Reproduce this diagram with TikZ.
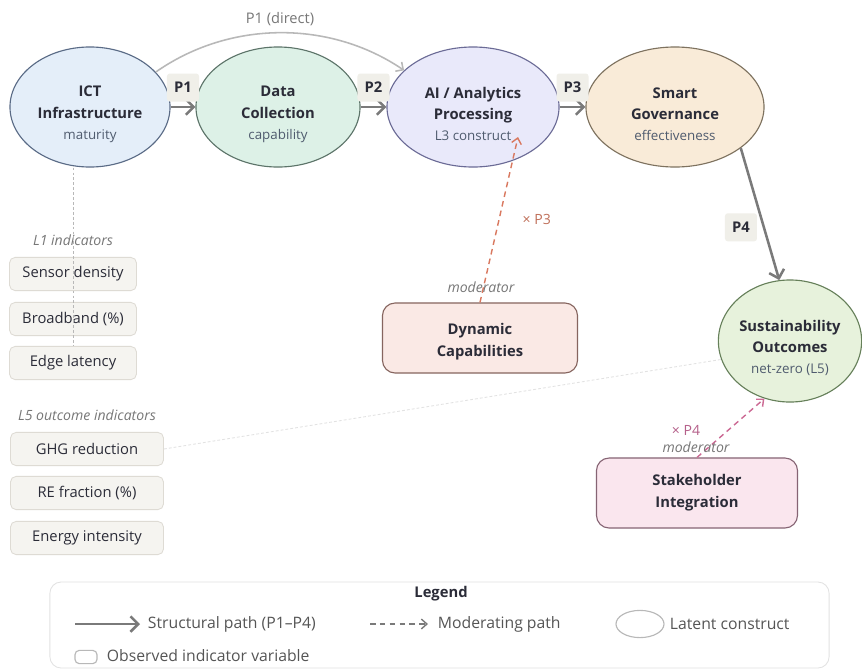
\documentclass[tikz,border=0pt]{standalone}
\usepackage{fontspec}
\setmainfont{Open Sans}
\usetikzlibrary{shapes.geometric, positioning, arrows.meta}

\definecolor{ictfill}{HTML}{E4EEF9}
\definecolor{ictline}{HTML}{5A6B86}
\definecolor{datafill}{HTML}{DDF1E7}
\definecolor{dataline}{HTML}{5C7469}
\definecolor{aifill}{HTML}{E9E9FA}
\definecolor{ailine}{HTML}{6B6B96}
\definecolor{govfill}{HTML}{F9EBD8}
\definecolor{govline}{HTML}{7E725F}
\definecolor{susfill}{HTML}{E7F2DC}
\definecolor{susline}{HTML}{66805A}
\definecolor{dynfill}{HTML}{FAE9E5}
\definecolor{dynline}{HTML}{86655F}
\definecolor{stakefill}{HTML}{FAE6EE}
\definecolor{stakeline}{HTML}{866474}
\definecolor{obsfill}{HTML}{F5F4F0}
\definecolor{obsline}{HTML}{DEDBD4}
\definecolor{tagfill}{HTML}{F0EFE9}
\definecolor{titlecol}{HTML}{2B2C38}
\definecolor{subgray}{HTML}{4F5B6E}
\definecolor{notegray}{HTML}{777777}
\definecolor{pathgray}{HTML}{7A7A7A}
\definecolor{arcgray}{HTML}{B8B8B8}
\definecolor{mod3}{HTML}{D9785F}
\definecolor{mod3txt}{HTML}{C0705A}
\definecolor{mod4}{HTML}{CC6A94}
\definecolor{mod4txt}{HTML}{B5608A}
\definecolor{legline}{HTML}{E2E2E2}
\definecolor{legtxt}{HTML}{555555}

\newcommand{\subtxt}[1]{{\fontsize{9.5}{11}\selectfont\mdseries\color{subgray}#1}}
\newcommand{\lift}{\rule{0pt}{18pt}}

\begin{document}
\begin{tikzpicture}[x=0.025cm, y=-0.025cm,
	latent/.style={ellipse, line width=0.8pt, inner sep=0pt, align=center, font=\fontsize{10.5}{15}\selectfont\bfseries, text=titlecol, minimum height=3cm},
	indicator/.style={draw=obsline, fill=obsfill, rounded corners=4pt, line width=0.6pt, font=\fontsize{10.5}{12}\selectfont, text=titlecol, minimum height=0.83cm},
	modbox/.style={rounded corners=9pt, line width=0.8pt, align=center, font=\fontsize{10.5}{15.5}\selectfont\bfseries, text=titlecol, minimum height=1.75cm},
	tag/.style={fill=tagfill, rounded corners=2pt, minimum width=0.8cm, minimum height=0.7cm, inner sep=0pt, font=\fontsize{10.5}{12}\selectfont\bfseries, text=titlecol},
	structural/.style={draw=pathgray, line width=1.8pt, -{Straight Barb[length=5.5pt,width=11pt]}},
	moderating/.style={draw=#1, line width=1pt, dash pattern=on 4pt off 3pt, -{Straight Barb[length=4pt,width=7pt]}},
	note/.style={font=\fontsize{10}{12}\selectfont\itshape, text=notegray},
	legtext/.style={font=\fontsize{11.2}{13}\selectfont, text=legtxt, anchor=west},
	faint/.style={draw=#1, line width=0.6pt, dash pattern=on 2pt off 1.5pt}
	]
	\fill[white] (0,0) rectangle (862,671);
	\useasboundingbox (0,0) rectangle (862,671);

	\node[latent, fill=ictfill, draw=ictline, minimum width=4cm] (ict) at (90,107) {\lift ICT\\Infrastructure\\\subtxt{maturity}};
	\node[latent, fill=datafill, draw=dataline, minimum width=4.1cm] (data) at (278,107) {\lift Data\\Collection\\\subtxt{capability}};
	\node[latent, fill=aifill, draw=ailine, minimum width=4.3cm] (ai) at (473,107) {\lift AI / Analytics\\Processing\\\subtxt{L3 construct}};
	\node[latent, fill=govfill, draw=govline, minimum width=4.45cm] (gov) at (675,107) {\lift Smart\\Governance\\\subtxt{effectiveness}};
	\node[latent, fill=susfill, draw=susline, minimum width=3.5cm, minimum height=3.05cm] (sus) at (790,341) {\lift Sustainability\\Outcomes\\\subtxt{net-zero (L5)}};

	\node[modbox, fill=dynfill, draw=dynline, minimum width=4.875cm] (dyn) at (480,338) {\rule{0pt}{13pt}Dynamic\\Capabilities};
	\node[modbox, fill=stakefill, draw=stakeline, minimum width=5.025cm] (stake) at (697,493) {Stakeholder\\Integration};

	\node[note] (l1) at (73,240) {L1 indicators};
	\node[indicator, minimum width=3.175cm] (sensor) at (73,274) {Sensor density};
	\node[indicator, minimum width=3.175cm] (broad) at (73,319) {Broadband (\%)};
	\node[indicator, minimum width=3.175cm] (latency) at (73,363) {Edge latency};
	\node[note] (l5) at (87,415) {L5 outcome indicators};
	\node[indicator, minimum width=3.825cm] (ghg) at (87,449) {GHG reduction};
	\node[indicator, minimum width=3.825cm] (re) at (87,493) {RE fraction (\%)};
	\node[indicator, minimum width=3.825cm] (energy) at (87,538) {Energy intensity};

	\draw[faint=arcgray] (ict.south -| sensor) -- (latency.north);
	\draw[faint=legline] (ghg.east) -- (sus.195);

	\draw (ict) edge[structural] node[tag, above=3pt]{P1} (data)
	      (data) edge[structural] node[tag, above=3pt]{P2} (ai)
	      (ai) edge[structural] node[tag, above=3pt]{P3} (gov)
	      (gov.-32) edge[structural] node[tag, pos=0.6, left=4pt]{P4} (sus.100);

	\draw[arcgray, line width=1.1pt, -{Straight Barb[length=4pt,width=8pt]}] (ict.28) .. controls (230,20) and (330,20) .. node[above=1pt, font=\fontsize{10.4}{12}\selectfont, text=notegray]{P1 (direct)} (ai.152);

	\coordinate (aitip) at (518,137);
	\draw (dyn.north) edge[moderating=mod3] node[pos=0.5, right=13pt, font=\fontsize{10}{12}\selectfont, text=mod3txt]{× P3} (aitip);
	\node[note] (mod1) at (481,287) {moderator};

	\draw (stake.north) edge[moderating=mod4] (sus.-114);
	\node[font=\fontsize{10}{12}\selectfont, text=mod4txt] (x4) at (686,430) {× P4};
	\node[note] (mod2) at (696,447) {moderator};

	\node[draw=legline, fill=white, rounded corners=8pt, line width=0.6pt, minimum width=19.475cm, minimum height=2.15cm] (legend) at (439.5,625) {};
	\node[font=\fontsize{10.5}{12}\selectfont\bfseries, text=titlecol] (legtitle) at (441,594) {Legend};
	\coordinate (ls1) at (75,624);
	\coordinate (le1) at (140,624);
	\draw[structural] (ls1) -- (le1);
	\node[legtext] (lstruct) at (143,624) {Structural path (P1–P4)};
	\coordinate (ls2) at (370,624);
	\coordinate (le2) at (428,624);
	\draw[moderating=pathgray] (ls2) -- (le2);
	\node[legtext] (lmod) at (433,624) {Moderating path};
	\node[ellipse, draw=arcgray, line width=0.8pt, minimum width=1.2cm, minimum height=0.68cm] (lell) at (640,624) {};
	\node[legtext] (llat) at (665,624) {Latent construct};
	\node[draw=arcgray, rounded corners=3pt, line width=0.8pt, minimum width=0.55cm, minimum height=0.33cm] (lbox) at (86,657) {};
	\node[legtext] (lobs) at (102,656) {Observed indicator variable};
\end{tikzpicture}
\end{document}
